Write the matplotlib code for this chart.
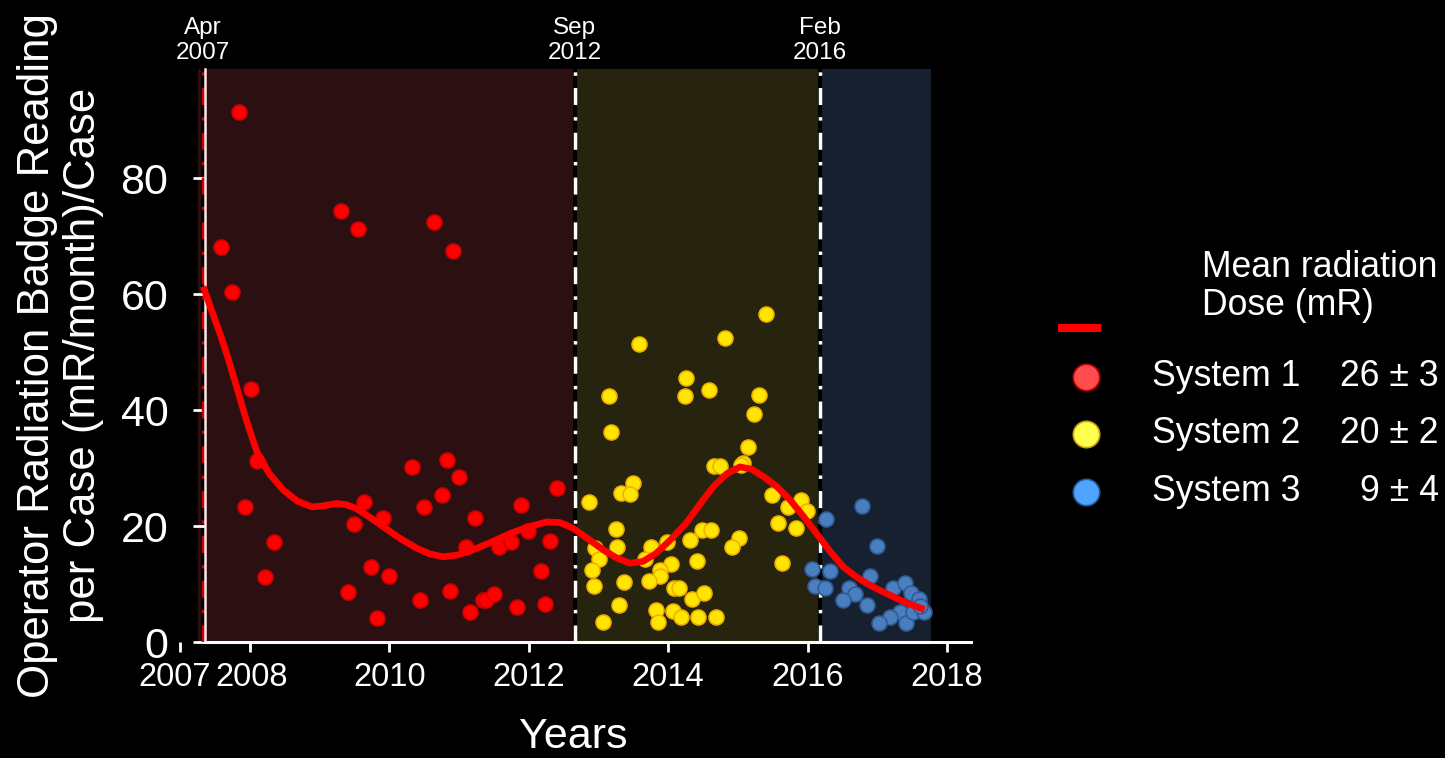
import matplotlib
matplotlib.use('Agg')
import matplotlib.pyplot as plt
import matplotlib.transforms as mtrans
from matplotlib.lines import Line2D

plt.rcParams['font.family'] = ['Liberation Sans', 'DejaVu Sans']

# operator badge readings per case, one list per imaging system
sys1_year = [2007.84, 2007.58, 2007.74, 2009.30, 2009.55, 2010.64, 2010.91,
             2008.01, 2008.10, 2007.93, 2008.34, 2008.21, 2009.64, 2009.91,
             2009.49, 2009.74, 2009.99, 2009.41, 2009.83, 2010.32, 2010.83,
             2011.00, 2010.76, 2010.50, 2011.23, 2011.10, 2010.44, 2010.87,
             2011.16, 2011.35, 2011.39, 2011.50, 2011.57, 2011.74, 2011.89,
             2011.99, 2012.17, 2012.31, 2012.40, 2011.83, 2012.23]
sys1_dose = [91.4, 68.2, 60.3, 74.4, 71.3, 72.5, 67.4,
             43.6, 31.3, 23.2, 17.2, 11.2, 24.2, 21.4,
             20.3, 12.9, 11.4, 8.6, 4.1, 30.2, 31.4,
             28.5, 25.3, 23.3, 21.4, 16.4, 7.2, 8.8,
             5.2, 7.2, 7.3, 8.2, 16.4, 17.2, 23.6,
             19.2, 12.2, 17.5, 26.5, 6.1, 6.5]

sys2_year = [2015.41, 2014.82, 2013.58, 2014.25, 2014.24, 2014.58, 2015.31,
             2013.15, 2013.18, 2015.23, 2015.15, 2014.66, 2014.75, 2015.07,
             2013.50, 2013.32, 2013.45, 2012.86, 2015.49, 2015.91, 2015.72,
             2015.99, 2015.57, 2015.84, 2013.25, 2014.48, 2014.61, 2015.02,
             2014.91, 2014.32, 2013.26, 2012.95, 2013.75, 2013.99, 2013.01,
             2013.67, 2012.91, 2014.04, 2014.41, 2013.88, 2013.89, 2015.64,
             2012.94, 2013.37, 2013.73, 2014.08, 2014.16, 2014.34, 2014.52,
             2013.30, 2013.83, 2014.07, 2014.19, 2014.43, 2014.68, 2013.06,
             2013.85, 2015.05]
sys2_dose = [56.6, 52.4, 51.4, 45.5, 42.5, 43.5, 42.6,
             42.5, 36.2, 39.3, 33.7, 30.4, 30.4, 30.9,
             27.5, 25.7, 25.6, 24.1, 25.4, 24.5, 23.2,
             22.6, 20.6, 19.7, 19.5, 19.4, 19.4, 18.0,
             16.4, 17.6, 16.4, 16.2, 16.4, 17.2, 14.4,
             14.4, 12.5, 13.5, 14.0, 12.4, 11.4, 13.6,
             9.6, 10.3, 10.6, 9.3, 9.3, 7.4, 8.5,
             6.3, 5.5, 5.3, 4.3, 4.3, 4.3, 3.4,
             3.4, 30.6]

sys3_year = [2016.78, 2016.27, 2016.99, 2016.07, 2016.32, 2016.11, 2016.25,
             2016.60, 2016.68, 2016.51, 2016.90, 2016.86, 2017.23, 2017.40,
             2017.49, 2017.60, 2017.33, 2017.18, 2017.02, 2017.42, 2017.52,
             2017.67, 2017.61]
sys3_dose = [23.4, 21.2, 16.5, 12.6, 12.3, 9.7, 9.4,
             9.4, 8.2, 7.2, 11.3, 6.4, 9.3, 10.2,
             8.4, 7.4, 5.1, 4.3, 3.2, 3.3, 5.2,
             5.2, 6.2]

# smoothed trend of the badge readings
trend_year = [2007.33, 2007.45, 2007.57, 2007.68, 2007.78, 2007.94, 2008.10,
              2008.28, 2008.48, 2008.68, 2008.89, 2009.06, 2009.24, 2009.38,
              2009.53, 2009.72, 2009.91, 2010.15, 2010.39, 2010.58, 2010.77,
              2010.98, 2011.20, 2011.46, 2011.73, 2012.00, 2012.26, 2012.45,
              2012.64, 2012.86, 2013.07, 2013.26, 2013.45, 2013.64, 2013.83,
              2014.04, 2014.26, 2014.46, 2014.65, 2014.84, 2015.03, 2015.20,
              2015.37, 2015.56, 2015.75, 2015.94, 2016.13, 2016.32, 2016.51,
              2016.68, 2016.85, 2017.04, 2017.23, 2017.45, 2017.68]
trend_dose = [61.3, 57.2, 53.2, 49.2, 45.2, 38.6, 32.8,
              29.0, 26.2, 24.3, 23.3, 23.5, 23.9, 23.7,
              23.0, 21.5, 19.9, 17.9, 16.2, 15.2, 14.7,
              15.0, 15.9, 17.2, 18.7, 19.9, 20.7, 20.6,
              19.6, 17.7, 15.9, 14.5, 13.6, 13.9, 15.3,
              17.7, 20.5, 23.8, 26.8, 29.0, 30.2, 29.8,
              28.5, 26.8, 24.5, 21.7, 18.7, 15.7, 13.0,
              11.4, 10.1, 8.9, 7.8, 6.6, 5.6]

# periods in which each system was in use
period_start = [2007.25, 2012.66, 2016.18]
period_end = [2012.66, 2016.18, 2017.77]
period_colors = ['#2c0f10', '#26240f', '#17202f']
change_dates = [2007.32, 2012.66, 2016.18]
change_labels = ['Apr\n2007', 'Sep\n2012', 'Feb\n2016']
change_colors = ['#cc0000', 'white', 'white']

systems = ['System 1', 'System 2', 'System 3']
mean_dose = ['26 \u00b1 3', '20 \u00b1 2', '9 \u00b1 4']
point_face = ['#ff0000', '#ffe600', '#4a7ebf']
point_edge = ['#d00000', '#f0b000', '#2e5d96']
legend_face = ['#ff4d4d', '#ffff4d', '#4ea4ff']
legend_edge = ['#c00000', '#c9a200', '#1d5a9c']

W, H = 1445, 758
fig = plt.figure(figsize=(W / 100, H / 100), dpi=100, facecolor='black')
ax = fig.add_axes([0.1223, 0.1530, 0.5494, 0.7559], facecolor='black')

for x0, x1, c in zip(period_start, period_end, period_colors):
    ax.axvspan(x0, x1, color=c, lw=0, zorder=0)

dash = (0, (4.9, 3.5, 1.0, 3.5))
for d, c in zip(change_dates, change_colors):
    ax.axvline(d, color='black', lw=3, zorder=1)
    ax.axvline(d, color=c, lw=2.5, linestyle=dash, zorder=2)
for d, lab in zip(change_dates, change_labels):
    ax.text(d, 1.008, lab, transform=ax.get_xaxis_transform(), ha='center',
            va='bottom', color='white', fontsize=17.5, linespacing=1.2)

data = [(sys1_year, sys1_dose), (sys2_year, sys2_dose), (sys3_year, sys3_dose)]
for (xs, ys), fc, ec in zip(data, point_face, point_edge):
    ax.scatter(xs, ys, s=115, c=fc, edgecolors=ec, linewidths=1.2, zorder=3)

ax.plot(trend_year, trend_dose, color='#ff0000', lw=4.8,
        solid_capstyle='butt', zorder=4)

ax.set_xlim(2006.95, 2018.34)
ax.set_ylim(0, 98.8)
ax.set_xticks([2007, 2008, 2010, 2012, 2014, 2016, 2018])
ax.set_yticks([0, 20, 40, 60, 80])
ax.tick_params(axis='x', colors='white', labelsize=23.5, length=7, width=2, pad=7.5)
ax.tick_params(axis='y', colors='white', labelsize=31, length=8.6, width=2, pad=18)

# push the 2007 and 2008 labels apart a little
xticks = ax.xaxis.get_major_ticks()
for tk, dx in [(xticks[0], -0.06), (xticks[1], 0.02)]:
    lbl = tk.label1
    lbl.set_transform(lbl.get_transform() +
                      mtrans.ScaledTranslation(dx, 0, fig.dpi_scale_trans))

for side in ['top', 'right']:
    ax.spines[side].set_visible(False)
ax.spines['left'].set_position(('data', 2007.36))
ax.spines['left'].set_color('#ffe6e6')
ax.spines['left'].set_linewidth(1.8)
ax.spines['bottom'].set_color('white')
ax.spines['bottom'].set_linewidth(2.2)
ax.spines['bottom'].set_bounds(2007.36, 2018.34)

ax.set_xlabel('Years', color='white', fontsize=31, labelpad=17)
ax.set_ylabel('Operator Radiation Badge Reading\nper Case (mR/month)/Case',
              color='white', fontsize=31.5, labelpad=12, linespacing=1.15)


# legend drawn by hand in figure pixels
def fx(px):
    return px / W


def fy(py):
    return 1 - py / H


fig.text(fx(1202), fy(277), 'Mean radiation', color='white', fontsize=25.7,
         va='baseline')
fig.text(fx(1202), fy(315), 'Dose (mR)', color='white', fontsize=25.7,
         va='baseline')
fig.add_artist(Line2D([fx(1058), fx(1101)], [fy(327.5), fy(327.5)],
                      transform=fig.transFigure, color='#ff0000', lw=5.8,
                      solid_capstyle='butt'))
for i in range(3):
    yc = 376.7 + 57.5 * i
    fig.add_artist(Line2D([fx(1086)], [fy(yc)], transform=fig.transFigure,
                          marker='o', markersize=19, markerfacecolor=legend_face[i],
                          markeredgecolor=legend_edge[i], markeredgewidth=1.2,
                          linestyle='none'))
    fig.text(fx(1152), fy(yc + 9), systems[i], color='white', fontsize=25.7,
             va='baseline')
    fig.text(fx(1439), fy(yc + 9), mean_dose[i], color='white', fontsize=25.7,
             va='baseline', ha='right')

fig.savefig('out.png', dpi=100, facecolor='black')
